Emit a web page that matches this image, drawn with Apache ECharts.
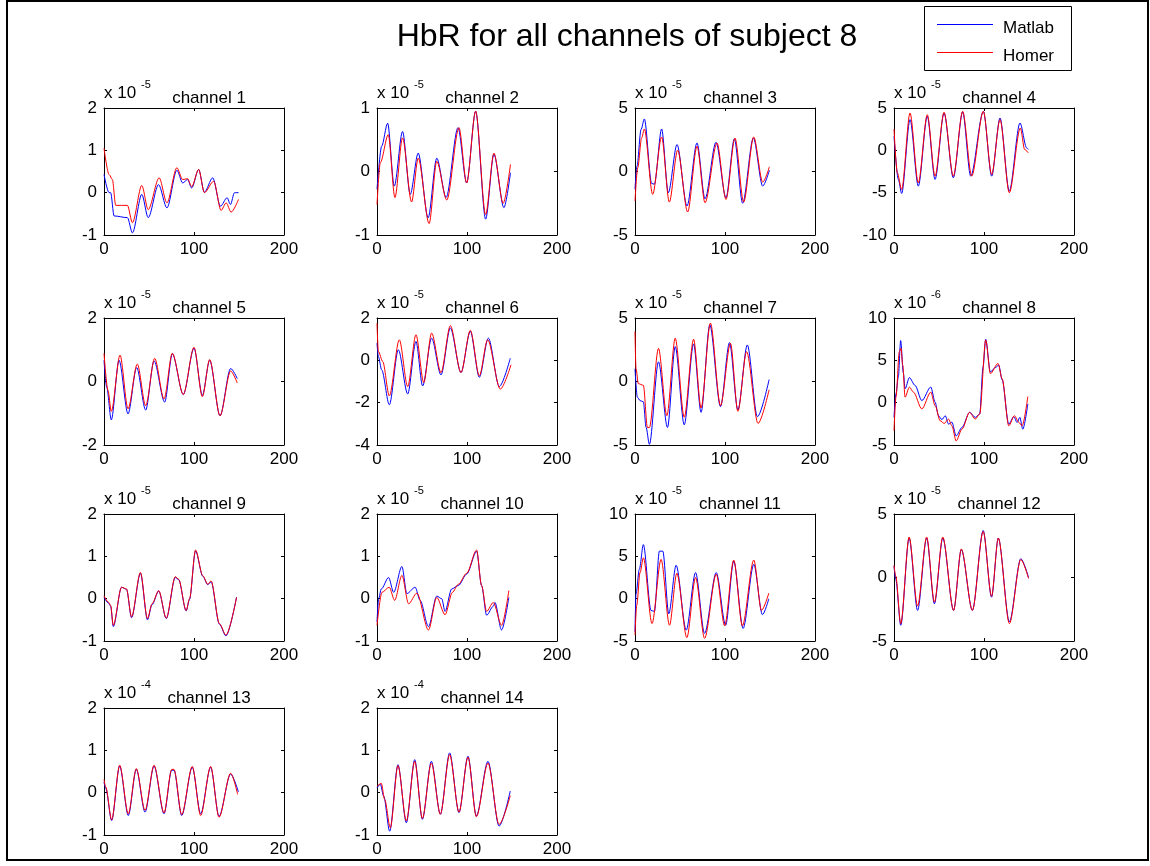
<!DOCTYPE html>
<html>
<head>
<meta charset="utf-8">
<script src="https://cdn.jsdelivr.net/npm/echarts@6/dist/echarts.min.js"></script>
<style>
  html, body { margin: 0; padding: 0; background: #fff; }
  #chart { width: 1150px; height: 866px; }
</style>
</head>
<body>
<div id="chart"></div>
<script>
// ---- data -------------------------------------------------------------
const mainTitle = 'HbR for all channels of subject 8';
const seriesNames = ['Matlab', 'Homer'];
const channelNames = ['channel 1', 'channel 2', 'channel 3', 'channel 4', 'channel 5', 'channel 6', 'channel 7',
  'channel 8', 'channel 9', 'channel 10', 'channel 11', 'channel 12', 'channel 13', 'channel 14'];
// power of ten shown above each panel; values below are in these units
const exponents = [-5, -5, -5, -5, -5, -5, -5, -6, -5, -5, -5, -5, -4, -4];
const yMin = [-1, -1, -5, -10, -2, -4, -5, -5, -1, -1, -5, -5, -1, -1];
const yMax = [2, 1, 5, 5, 2, 2, 5, 10, 2, 2, 10, 5, 2, 2];
const yStep = [1, 1, 5, 5, 2, 2, 5, 5, 1, 1, 5, 5, 1, 1];
const xTickValues = [0, 100, 200];

// [time, HbR] pairs
const matlab1 = [[0,0.43],[5.6,0],[7.4,0],[11.2,-0.55],[26,-0.59],[31.6,-0.95],[42,-0.04],[49.1,-0.59],[60.6,0.19],[69.9,-0.36],[81,0.53],[87.4,0.23],[92.9,0.31],[97.4,0.11],[105.2,0.55],[111.5,0.01],[120.8,0.35],[129.4,-0.32],[136.8,-0.12],[140.5,-0.28],[145,0],[149.4,0]];
const homer1 = [[0,1.05],[5.6,0.43],[9.3,0.31],[13,-0.3],[26,-0.3],[31.6,-0.71],[42,0.17],[49.1,-0.4],[61.3,0.35],[69.9,-0.24],[81,0.59],[87.4,0.31],[92.9,0.33],[97.4,0.14],[105.2,0.55],[111.5,0],[121.9,0.27],[130.1,-0.42],[135.7,-0.24],[141.3,-0.46],[149.4,-0.16]];

const matlab2 = [[0,-0.28],[5.2,0.4],[11.8,0.76],[19.2,-0.23],[28.4,0.63],[36.9,-0.36],[45.8,0.29],[56.8,-0.73],[66.4,0.21],[76.8,-0.41],[90,0.69],[99.6,-0.18],[109.6,0.95],[120.7,-0.75],[129.9,0.27],[141,-0.57],[148.3,-0.02]];
const homer2 = [[0,-0.52],[3.7,0.14],[12.5,0.58],[19.9,-0.41],[28.4,0.53],[38.4,-0.48],[45.8,0.21],[57.9,-0.82],[66.4,0.16],[77.5,-0.45],[91.1,0.69],[99.6,-0.18],[109.6,0.95],[120.7,-0.68],[129.9,0.29],[140.2,-0.5],[148.3,0.11]];

const matlab3 = [[0,-1.4],[2.2,0.42],[6.7,3.3],[10.4,4.14],[18.5,-0.94],[21.5,-1],[29.6,3.35],[37,-1.67],[46.7,2.12],[57.8,-2.72],[68.9,2.25],[77.8,-2.15],[90,2.3],[101.1,-2.07],[110.4,2.57],[119.6,-2.5],[131.5,2.64],[141.9,-1.15],[149.3,0.1]];
const homer3 = [[0,-2.33],[3,0.29],[7.4,2.64],[10.4,3.35],[19.6,-1.8],[29.6,2.72],[38.1,-2.41],[47.4,1.68],[58.5,-3.19],[68.9,1.99],[77.8,-2.46],[91.1,2.25],[101.1,-2.2],[111.1,2.64],[120.7,-2.41],[131.9,2.72],[141.9,-0.84],[149.3,0.37]];

const matlab4 = [[0,1.66],[4.8,-3.44],[8.5,-5.09],[17.8,3.63],[27,-4.23],[37,4.02],[45.6,-3.44],[55.6,4.41],[65.9,-3.24],[76.3,4.53],[85.2,-3.05],[99.3,4.61],[108.5,-3.05],[117.8,3.82],[128.1,-4.82],[140,3.23],[147.4,0.29],[149.3,0.1]];
const homer4 = [[0,2.53],[3.7,-2.66],[8.5,-4.62],[17.8,4.41],[27,-3.83],[37,4.21],[45.6,-3.05],[55.6,4.49],[65.9,-3.05],[76.3,4.61],[86.3,-3.05],[99.3,4.61],[108.5,-2.85],[117.8,3.63],[128.1,-5.01],[140.4,2.64],[145.2,0.09],[149.3,-0.3]];

const matlab5 = [[0,0.67],[3,-0.18],[8.1,-1.21],[16.7,0.67],[26.7,-1.02],[36.3,0.44],[46.3,-0.9],[55.6,0.65],[67.4,-0.65],[75.9,0.87],[88.1,-0.41],[100,1.05],[109.3,-0.44],[117.4,0.67],[128.9,-1.08],[140.7,0.41],[148.1,0.09]];
const homer5 = [[0,0.89],[4.4,-0.28],[8.1,-0.94],[17.8,0.83],[26.7,-0.86],[37,0.55],[46.3,-0.76],[56.3,0.73],[66.7,-0.55],[75.9,0.89],[88.1,-0.41],[100,1.08],[109.3,-0.48],[117.4,0.69],[128.9,-1.08],[140.7,0.33],[148.1,-0.05]];

const matlab6 = [[0,0.82],[1.5,0.18],[5.2,-0.45],[13.7,-2.1],[23.7,0.5],[34.1,-1.59],[43.3,0.89],[50.7,-1.21],[60.7,1.05],[71.1,-0.69],[81.5,1.53],[93.3,-0.58],[103.7,1.37],[113.7,-0.8],[123.7,1.05],[135.9,-1.24],[148.1,0.1]];
const homer6 = [[0,1.76],[1.5,0.42],[6.3,-0.05],[13.7,-1.68],[24.8,0.97],[34.1,-1.24],[43.3,1.21],[51.9,-1.05],[60.7,1.29],[71.1,-0.58],[81.5,1.64],[93.3,-0.58],[103.7,1.42],[113.7,-0.73],[122.9,0.97],[137,-1.36],[148.9,-0.21]];

const matlab7 = [[0,1],[2.6,-1.23],[5.6,-1.5],[9.3,-1.6],[12.3,-3.6],[16,-4.95],[26.1,1.55],[36.1,-3.62],[44.7,2.75],[54.7,-3.41],[65.1,2.96],[73.4,-2.43],[83.1,4.47],[95,-1.98],[105,3.06],[114.3,-2.24],[124.8,2.88],[136,-2.77],[149,0.15]];
const homer7 = [[0,3.94],[1.1,1.02],[3.7,-0.17],[9.3,-0.3],[13.8,-3.62],[16,-3.62],[26.1,2.61],[35.4,-2.69],[44.7,3.41],[54.7,-2.82],[65.1,3.33],[73.4,-2.08],[83.8,4.6],[95,-1.9],[106.1,3.01],[114.3,-2.35],[124,2.35],[136.7,-3.3],[149,-0.65]];

const matlab8 = [[0,-1.74],[2.2,1.05],[4.8,3.04],[7.4,7.33],[10.4,3.51],[12.3,1.64],[17.1,2.96],[23.4,2.04],[30.9,0.25],[40.9,1.84],[45.7,0.05],[49.4,-1.54],[53.2,-2],[56.9,-1.54],[60.6,-2.53],[64.3,-2.3],[69.1,-3.93],[75.5,-2.93],[84,-1.14],[90.3,-1.74],[95.2,-1.34],[99,4.23],[101.9,7.49],[107.1,3.63],[112.6,4.15],[116.4,4.43],[120.1,2.72],[127.5,-2.53],[133.1,-1.66],[136.8,-2.34],[139.8,-1.74],[143.1,-3.13],[148.7,-0.15]];
const homer8 = [[0,-3.33],[2.2,0.65],[5.9,6.02],[7.8,6.42],[9.7,4.43],[12.3,0.65],[17.1,1.84],[21.6,1.24],[30.9,-0.74],[40.9,1.24],[45.7,-0.35],[51.3,-2.14],[55.8,-2.45],[60.6,-1.94],[64.3,-2.73],[69.1,-4.52],[75.5,-3.13],[84,-1.14],[90.3,-1.94],[95.2,-1.34],[101.9,7.41],[107.1,3.43],[115.6,4.63],[120.1,2.84],[127.5,-2.73],[133.8,-1.54],[138.7,-2.34],[142.4,-2.73],[148.7,0.73]];

const matlab9 = [[0,0.03],[4.8,-0.1],[7.4,-0.18],[10.3,-0.66],[19.5,0.27],[25,0.22],[30.6,-0.45],[40.5,0.6],[48.3,-0.5],[53.4,-0.14],[60.8,0.18],[69.2,-0.47],[79.2,0.5],[82.9,0.45],[91.3,-0.29],[95,-0.02],[101.7,1.13],[109.8,0.53],[115.3,0.33],[119,0.4],[128.2,-0.6],[135.5,-0.88],[147.3,0.04]];
const homer9 = [[0,0.07],[4.8,-0.08],[7.4,-0.16],[10.3,-0.63],[19.5,0.27],[25,0.23],[30.6,-0.43],[40.5,0.62],[48.3,-0.47],[53.4,-0.12],[60.8,0.19],[69.2,-0.46],[79.2,0.52],[82.9,0.46],[91.3,-0.28],[95,0],[101.7,1.15],[109.8,0.54],[115.3,0.34],[119,0.42],[128.2,-0.59],[135.5,-0.86],[147.3,0.03]];

const matlab10 = [[0,-0.55],[1.8,0],[4.8,0.23],[12.9,0.5],[18.5,0.15],[27.7,0.76],[33.2,0.12],[42.4,0.27],[47.9,-0.04],[57.2,-0.66],[66.4,0.06],[71.9,0],[75.6,-0.3],[83,0.23],[90.4,0.31],[99.6,0.58],[110.7,1.12],[116.2,0.31],[121.8,-0.39],[129.2,-0.18],[131,-0.09],[138.4,-0.74],[146.5,0.03]];
const homer10 = [[0,-0.63],[5.5,0.15],[13.6,0.27],[19.6,-0.04],[27.7,0.55],[35.1,-0.12],[44.3,0.13],[57.2,-0.74],[66.4,0.03],[75.6,-0.38],[83.8,0.15],[90.4,0.34],[99.6,0.6],[110.7,1.15],[116.2,0.31],[121.8,-0.3],[129.2,-0.09],[138.4,-0.63],[146.5,0.19]];

const matlab11 = [[0,-3.9],[1.1,0.56],[4.8,3.47],[9.3,6.39],[17.8,-1.39],[21.6,-1.5],[27.1,5.61],[30.9,5.61],[37.5,-1.78],[45.7,3.94],[56.9,-3.72],[67.3,3.08],[77.3,-4.1],[90.3,3.08],[100.7,-3.14],[109.7,4.44],[120.1,-3.52],[132,4.05],[141.6,-1.89],[148.7,0]];
const homer11 = [[0,-4.3],[1.9,-0.8],[5.6,3.08],[9.3,4.83],[18.9,-2.94],[29,4.64],[38.3,-3.14],[46.5,3],[57.6,-4.6],[67.3,2.5],[77.3,-4.69],[90.3,2.89],[99.6,-3.21],[109.7,4.56],[119.3,-3.21],[132,4.56],[140.5,-1.39],[148.7,0.66]];

const matlab12 = [[0,0.91],[1.9,-0.13],[7.5,-3.76],[16.8,3.11],[26.2,-2.59],[36.3,3.11],[44.9,-2.07],[54.2,3.11],[66.2,-2.59],[74.8,2.2],[87.1,-2.59],[99.1,3.7],[108.4,-1.55],[115.9,3.11],[128.2,-3.5],[140.9,1.48],[149.5,0]];
const homer12 = [[0,0.96],[1.9,0.13],[7.5,-3.63],[16.8,3.19],[26.2,-2.25],[36.3,3.19],[44.9,-1.94],[54.2,3.19],[66.2,-2.59],[74.8,2.25],[87.1,-2.59],[99.1,3.63],[108.4,-1.48],[115.9,3.11],[128.2,-3.63],[140.9,1.42],[149.5,-0.08]];

const matlab13 = [[0,0.25],[1.9,0.1],[8.5,-0.66],[17.4,0.63],[27,-0.54],[35.9,0.55],[45.6,-0.46],[55.6,0.63],[66.7,-0.5],[75.2,0.53],[77.8,0.53],[86.3,-0.54],[98.1,0.6],[107.4,-0.5],[118.5,0.6],[127.8,-0.56],[140.7,0.44],[149.3,0.02]];
const homer13 = [[0,0.31],[1.9,0.14],[8.5,-0.64],[17.4,0.65],[27,-0.5],[35.9,0.57],[45.6,-0.42],[55.6,0.65],[66.7,-0.48],[75.2,0.55],[77.8,0.55],[86.3,-0.52],[98.1,0.62],[107.4,-0.54],[118.5,0.62],[127.8,-0.58],[140.7,0.46],[148.5,-0.04]];

const matlab14 = [[0,0.11],[3.7,0.2],[7.4,-0.08],[14.1,-0.91],[23.3,0.66],[32.6,-0.71],[41.9,0.78],[50.4,-0.63],[60.4,0.74],[70.4,-0.51],[80.7,0.94],[91.1,-0.47],[101.1,0.86],[110.4,-0.55],[123.3,0.74],[135.6,-0.79],[148.1,0.04]];
const homer14 = [[0,0.15],[4.8,0.22],[8.5,-0.16],[14.8,-0.83],[23.3,0.64],[32.6,-0.67],[41.9,0.74],[50.4,-0.61],[60.4,0.7],[70.4,-0.51],[80.7,0.9],[91.1,-0.46],[101.1,0.84],[110.4,-0.57],[123.3,0.7],[135.6,-0.75],[148.1,-0.07]];

const matlabData = [matlab1, matlab2, matlab3, matlab4, matlab5, matlab6, matlab7, matlab8, matlab9, matlab10, matlab11, matlab12, matlab13, matlab14];
const homerData = [homer1, homer2, homer3, homer4, homer5, homer6, homer7, homer8, homer9, homer10, homer11, homer12, homer13, homer14];

// ---- layout -----------------------------------------------------------
const FONT = '"Liberation Sans", Arial, Helvetica, sans-serif';
const colLeft = [104, 377, 635, 894];
const rowTop = [108, 318, 514, 708];
const plotW = 180, plotH = 127;
const BLUE = '#0000ff', RED = '#ff0000';
const SMALL = 17;

const grids = [], xAxes = [], yAxes = [], series = [], graphics = [];

const axisBase = {
  axisLine: { show: true, onZero: false, lineStyle: { color: '#000', width: 1 } },
  axisTick: { show: true, inside: true, length: 3, lineStyle: { color: '#000', width: 1 } },
  splitLine: { show: false }
};

channelNames.forEach((name, i) => {
  const r = Math.floor(i / 4), c = i % 4;
  const left = colLeft[c], top = rowTop[r];
  grids.push({ left: left, top: top, width: plotW, height: plotH, show: false });

  const xCommon = Object.assign({}, axisBase, {
    type: 'value', gridIndex: i, min: xTickValues[0], max: xTickValues[xTickValues.length - 1],
    interval: xTickValues[1] - xTickValues[0]
  });
  xAxes.push(Object.assign({}, xCommon, {
    position: 'bottom',
    axisLabel: { show: true, color: '#000', fontSize: SMALL, fontFamily: FONT, margin: 6,
      showMinLabel: true, showMaxLabel: true }
  }));
  xAxes.push(Object.assign({}, xCommon, { position: 'top', axisLabel: { show: false } }));

  const yCommon = Object.assign({}, axisBase, {
    type: 'value', gridIndex: i, min: yMin[i], max: yMax[i], interval: yStep[i]
  });
  yAxes.push(Object.assign({}, yCommon, {
    position: 'left',
    axisLabel: { show: true, color: '#000', fontSize: SMALL, fontFamily: FONT, margin: 7,
      showMinLabel: true, showMaxLabel: true }
  }));
  yAxes.push(Object.assign({}, yCommon, { position: 'right', axisLabel: { show: false } }));

  const lineCommon = {
    type: 'line', xAxisIndex: 2 * i, yAxisIndex: 2 * i,
    showSymbol: false, symbol: 'none', smooth: 0.3, smoothMonotone: 'x',
    animation: false, silent: true, clip: true
  };
  series.push(Object.assign({}, lineCommon, {
    name: seriesNames[0], data: matlabData[i], z: 2,
    lineStyle: { color: BLUE, width: 1 }, itemStyle: { color: BLUE }
  }));
  series.push(Object.assign({}, lineCommon, {
    name: seriesNames[1], data: homerData[i], z: 3,
    lineStyle: { color: RED, width: 1 }, itemStyle: { color: RED }
  }));

  // panel title and power-of-ten multiplier
  graphics.push({
    type: 'text', x: left + plotW / 2 + 15, y: top - 10, silent: true,
    style: { text: name, fill: '#000', fontSize: SMALL, fontFamily: FONT, align: 'center', verticalAlign: 'middle' }
  });
  graphics.push({
    type: 'text', x: left, y: top - 15, silent: true,
    style: { text: 'x 10', fill: '#000', fontSize: SMALL, fontFamily: FONT, align: 'left', verticalAlign: 'middle' }
  });
  graphics.push({
    type: 'text', x: left + 37, y: top - 23, silent: true,
    style: { text: String(exponents[i]), fill: '#000', fontSize: 11, fontFamily: FONT, align: 'left', verticalAlign: 'middle' }
  });
});

// figure title
graphics.push({
  type: 'text', x: 627, y: 37, silent: true,
  style: { text: mainTitle, fill: '#000', fontSize: 32, fontFamily: FONT, align: 'center', verticalAlign: 'middle' }
});

// legend box
graphics.push({
  type: 'rect', silent: true, shape: { x: 924.5, y: 6.5, width: 147, height: 64 },
  style: { fill: '#fff', stroke: '#000', lineWidth: 1 }
});
[[BLUE, 24, seriesNames[0]], [RED, 52, seriesNames[1]]].forEach(([col, y, label]) => {
  graphics.push({
    type: 'line', silent: true, shape: { x1: 937, y1: y + 0.5, x2: 993, y2: y + 0.5 },
    style: { stroke: col, lineWidth: 1 }
  });
  graphics.push({
    type: 'text', x: 1003, y: y + 4, silent: true,
    style: { text: label, fill: '#000', fontSize: 17, fontFamily: FONT, align: 'left', verticalAlign: 'middle' }
  });
});

// figure frame
graphics.push({
  type: 'rect', silent: true, shape: { x: 7, y: 1, width: 1141, height: 859 },
  style: { fill: 'none', stroke: '#000', lineWidth: 2 }
});

const chart = echarts.init(document.getElementById('chart'), null, { renderer: 'canvas' });
chart.setOption({
  animation: false,
  backgroundColor: '#fff',
  grid: grids,
  xAxis: xAxes,
  yAxis: yAxes,
  series: series,
  graphic: { elements: graphics }
});
</script>
</body>
</html>
